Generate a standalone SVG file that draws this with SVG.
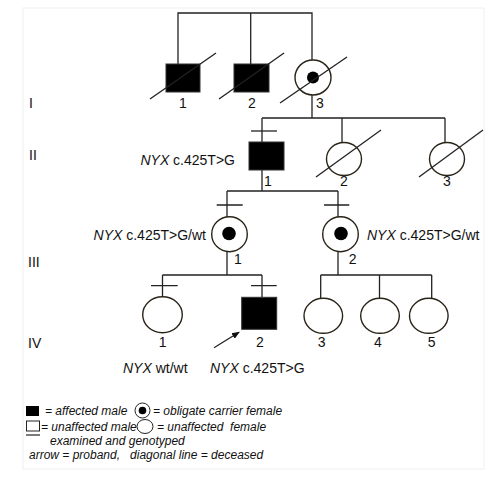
<svg xmlns="http://www.w3.org/2000/svg" width="500" height="500" viewBox="0 0 500 500">
<style>
.ln{stroke:#222;stroke-width:1.3;fill:none}
.aff{fill:#000;stroke:#333;stroke-width:1}
.unf{fill:#fff;stroke:#2a2418;stroke-width:1.4}
.dot{fill:#000}
.t{font-family:"Liberation Sans",Arial,sans-serif;font-size:14px;fill:#111}
.n{font-family:"Liberation Sans",Arial,sans-serif;font-size:14px;fill:#111;text-anchor:middle}
.it{font-style:italic}
.lg{font-family:"Liberation Sans",Arial,sans-serif;font-size:12px;font-style:italic;fill:#111}
</style>
<defs>
<marker id="ah" markerWidth="8" markerHeight="8" refX="7" refY="4" orient="auto" markerUnits="userSpaceOnUse">
<path d="M0,0.8 L8,4 L0,7.2 Z" fill="#111"/>
</marker>
</defs>
<rect x="0" y="0" width="500" height="500" fill="#fff"/>
<rect x="23" y="8" width="461" height="461" fill="none" stroke="#f0f0f0" stroke-width="1"/>

<g id="connectors" class="ln">
<path d="M178,64 V13 H312 V60 M250.7,13 V64"/>
<path d="M312,95 V118 M262,118 H445 M262,118 V142 M342,118 V143 M445,118 V143"/>
<path d="M251,131 H277"/>
<path d="M262,170 V191 M227,191 H338 M227,191 V217 M338,191 V217"/>
<path d="M216.7,205 H242.7 M324,205 H349.3"/>
<path d="M227,252 V275 M162.5,275 H262 M162.5,275 V297 M262,275 V297"/>
<path d="M151,285.7 H177.7 M251,285.7 H276.7"/>
<path d="M338,252 V275 M320.7,275 H431.7 M320.7,275 V298.5 M379.5,275 V298.5 M431.7,275 V298.5"/>
<line x1="214" y1="347.7" x2="239" y2="332.3" marker-end="url(#ah)"/>
</g>

<g id="gen-labels">
<text class="t" x="29" y="108">I</text>
<text class="t" x="29" y="160">II</text>
<text class="t" x="28" y="267">III</text>
<text class="t" x="28" y="348">IV</text>
</g>

<g id="I-1">
<rect class="aff" x="166" y="64" width="34" height="28"/>
<line class="ln" x1="150" y1="99" x2="216" y2="53"/>
<text class="n" x="183" y="108">1</text>
</g>
<g id="I-2">
<rect class="aff" x="234" y="64" width="35" height="28"/>
<line class="ln" x1="219" y1="99" x2="284" y2="53"/>
<text class="n" x="252" y="108">2</text>
</g>
<g id="I-3">
<ellipse class="unf" cx="313" cy="77.5" rx="18" ry="17.5"/>
<circle class="dot" cx="313" cy="77.5" r="6"/>
<line class="ln" x1="280" y1="103" x2="347" y2="57"/>
<text class="n" x="320" y="108">3</text>
</g>

<g id="II-1">
<rect class="aff" x="249" y="142" width="35" height="28"/>
<text class="n" x="268" y="186">1</text>
<text class="t" x="235" y="165" text-anchor="end"><tspan class="it">NYX</tspan> c.425T&gt;G</text>
</g>
<g id="II-2">
<ellipse class="unf" cx="344" cy="159" rx="17.5" ry="16.5"/>
<line class="ln" x1="316" y1="177" x2="381" y2="130"/>
<text class="n" x="344" y="186">2</text>
</g>
<g id="II-3">
<ellipse class="unf" cx="447" cy="159" rx="17.5" ry="16.5"/>
<line class="ln" x1="419" y1="177" x2="483" y2="130"/>
<text class="n" x="447" y="186">3</text>
</g>

<g id="III-1">
<ellipse class="unf" cx="229.5" cy="234.2" rx="17.8" ry="17.5"/>
<circle class="dot" cx="229" cy="233.5" r="6.8"/>
<text class="n" x="238" y="264">1</text>
<text class="t" x="206" y="240" text-anchor="end"><tspan class="it">NYX</tspan> c.425T&gt;G/wt</text>
</g>
<g id="III-2">
<ellipse class="unf" cx="340.5" cy="234.2" rx="17.8" ry="17.5"/>
<circle class="dot" cx="341" cy="233.5" r="6.8"/>
<text class="n" x="352.7" y="264">2</text>
<text class="t" x="367" y="240"><tspan class="it">NYX</tspan> c.425T&gt;G/wt</text>
</g>

<g id="IV-1">
<ellipse class="unf" cx="162.5" cy="314.7" rx="19.8" ry="18"/>
<text class="n" x="162.7" y="347">1</text>
<text class="t" x="123" y="373"><tspan class="it">NYX</tspan> wt/wt</text>
</g>
<g id="IV-2">
<rect class="aff" x="241.7" y="297.3" width="35" height="32"/>
<text class="n" x="260" y="347">2</text>
<text class="t" x="210" y="373"><tspan class="it">NYX</tspan> c.425T&gt;G</text>
</g>
<g id="IV-3">
<ellipse class="unf" cx="323.3" cy="315.8" rx="19.3" ry="17.5"/>
<text class="n" x="321.7" y="347">3</text>
</g>
<g id="IV-4">
<ellipse class="unf" cx="380" cy="315.8" rx="19.3" ry="17.5"/>
<text class="n" x="378" y="347">4</text>
</g>
<g id="IV-5">
<ellipse class="unf" cx="428.8" cy="315.8" rx="19.3" ry="17.5"/>
<text class="n" x="431.7" y="347">5</text>
</g>

<g id="legend">
<rect x="26" y="406" width="13" height="10" fill="#000"/>
<text class="lg" x="45" y="415">= affected male</text>
<circle cx="142.5" cy="410.5" r="7.5" fill="#fff" stroke="#222" stroke-width="1"/>
<circle cx="142.5" cy="410.5" r="3.8" fill="#000"/>
<text class="lg" x="153" y="415">= obligate carrier female</text>
<rect x="26.5" y="421" width="13" height="10" fill="#fff" stroke="#222" stroke-width="1"/>
<text class="lg" x="41" y="431">= unaffected male</text>
<ellipse cx="145" cy="426.5" rx="8" ry="7" fill="#fff" stroke="#222" stroke-width="1"/>
<text class="lg" x="157" y="431" xml:space="preserve">= unaffected  female</text>
<line x1="26" y1="435" x2="40" y2="435" stroke="#222" stroke-width="1.2"/>
<text class="lg" x="50" y="445">examined and genotyped</text>
<text class="lg" x="29" y="459" xml:space="preserve">arrow = proband,   diagonal line = deceased</text>
</g>
</svg>
